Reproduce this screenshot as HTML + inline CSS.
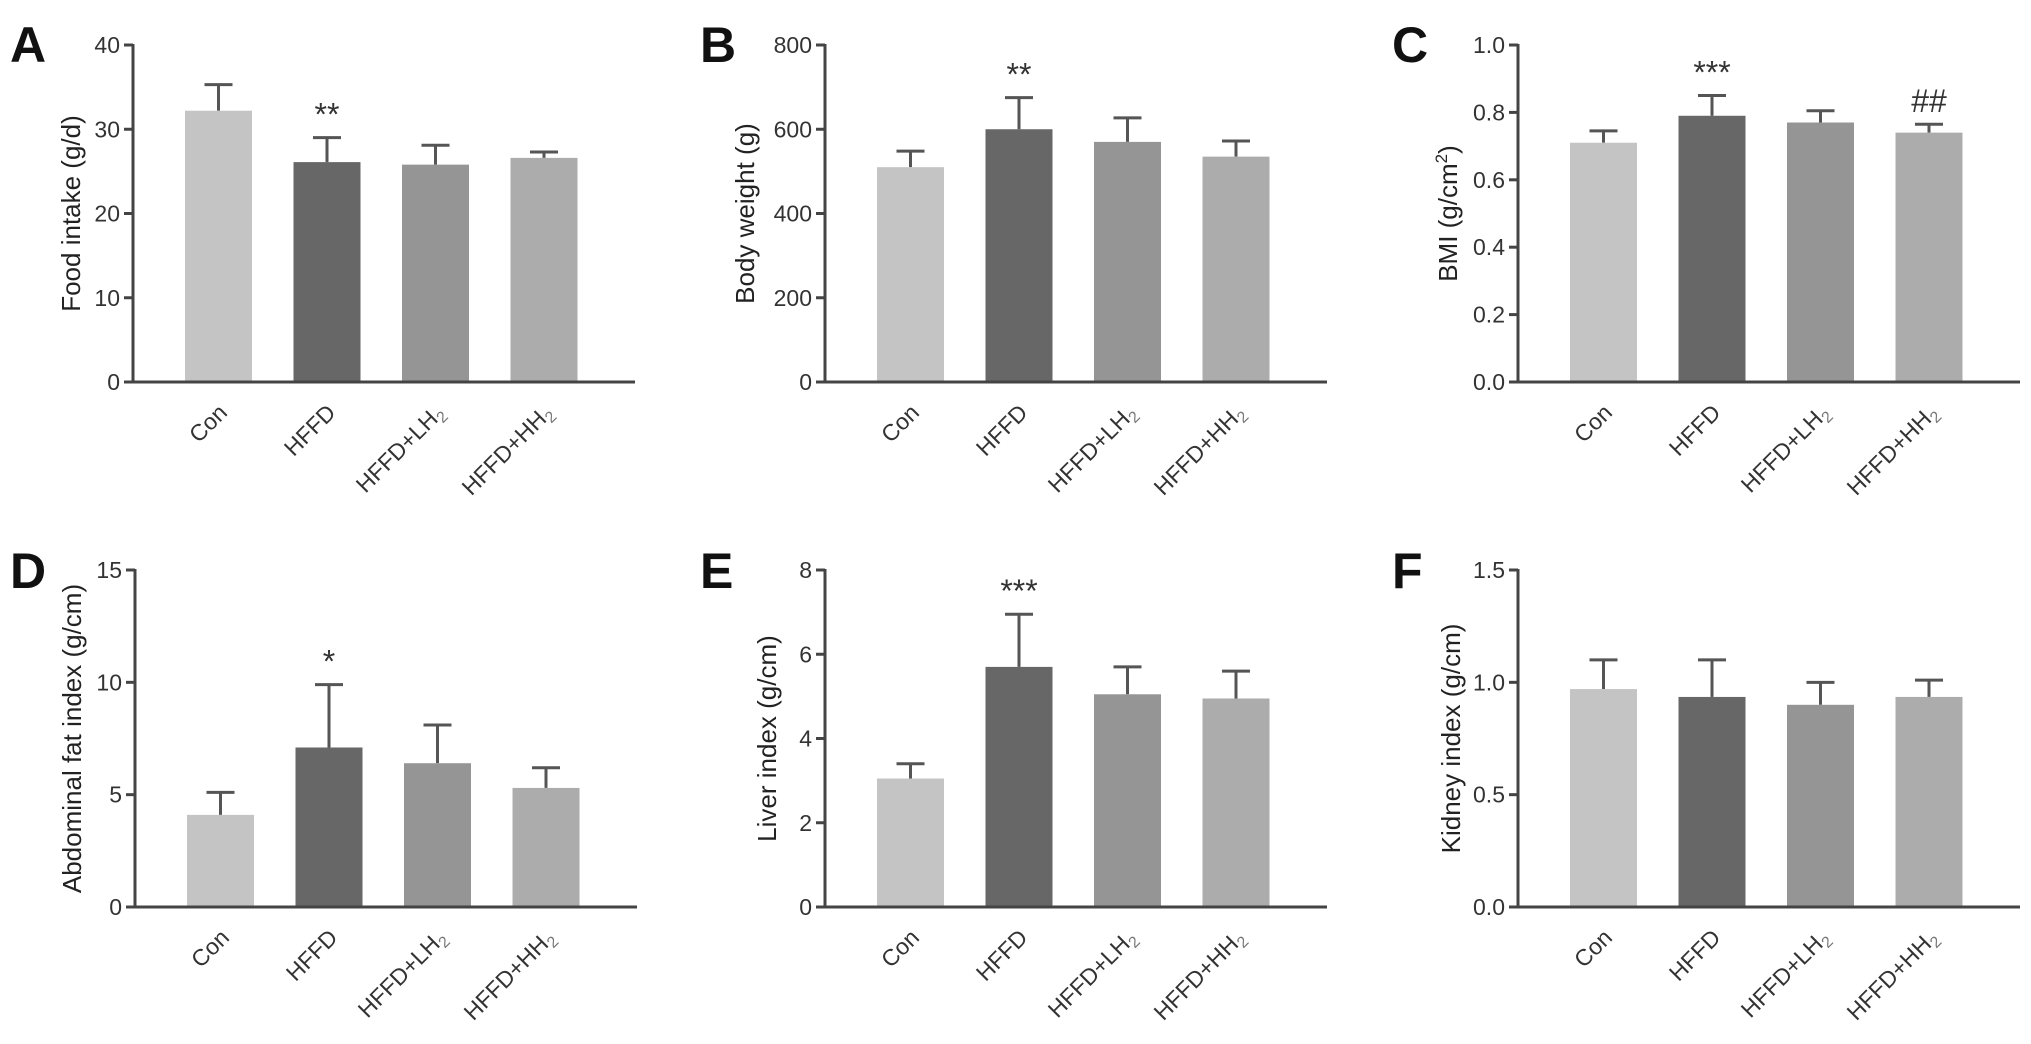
<!DOCTYPE html>
<html><head><meta charset="utf-8"><style>
html,body{margin:0;padding:0;background:#fff;}
svg{display:block;font-family:"Liberation Sans",Arial,sans-serif;}
</style></head><body>
<svg id="fig" width="2031" height="1044" viewBox="0 0 2031 1044" xmlns="http://www.w3.org/2000/svg"></svg>
<script>
const categories = ["Con","HFFD","HFFD+LH","HFFD+HH"];
const colors = ["#c4c4c4","#676767","#959595","#acacac"];
const meansA = [32.2,26.1,25.8,26.6];
const errA = [35.3,29.0,28.1,27.3];
const sigA = ["","**","",""];
const meansB = [510,600,570,535];
const errB = [548,675,627,572];
const sigB = ["","**","",""];
const meansC = [0.71,0.79,0.77,0.74];
const errC = [0.745,0.85,0.805,0.765];
const sigC = ["","***","","##"];
const meansD = [4.1,7.1,6.4,5.3];
const errD = [5.1,9.9,8.1,6.2];
const sigD = ["","*","",""];
const meansE = [3.05,5.7,5.05,4.95];
const errE = [3.4,6.95,5.7,5.6];
const sigE = ["","***","",""];
const meansF = [0.97,0.935,0.9,0.935];
const errF = [1.1,1.1,1.0,1.01];
const sigF = ["","","",""];
const ticksA = [0,10,20,30,40];
const ticksB = [0,200,400,600,800];
const ticksC = ["0.0","0.2","0.4","0.6","0.8","1.0"];
const ticksD = [0,5,10,15];
const ticksE = [0,2,4,6,8];
const ticksF = ["0.0","0.5","1.0","1.5"];

const NS="http://www.w3.org/2000/svg";
const svg=document.getElementById('fig');
function mk(tag,attrs,parent){const e=document.createElementNS(NS,tag);for(const k in attrs)e.setAttribute(k,attrs[k]);(parent||svg).appendChild(e);return e;}

const panels=[
 {id:'a',letter:'A',ax:133,top:45,zero:382,lx:10,ly:62,toff:62,title:'Food intake (g/d)',means:meansA,err:errA,sig:sigA,ticks:ticksA},
 {id:'b',letter:'B',ax:825,top:45,zero:382,lx:700,ly:62,toff:80,title:'Body weight (g)',means:meansB,err:errB,sig:sigB,ticks:ticksB},
 {id:'c',letter:'C',ax:1518,top:45,zero:382,lx:1392,ly:62,toff:70,title:'BMI (g/cm',sup:'2',means:meansC,err:errC,sig:sigC,ticks:ticksC},
 {id:'d',letter:'D',ax:135,top:570,zero:907,lx:10,ly:588,toff:63,title:'Abdominal fat index (g/cm)',means:meansD,err:errD,sig:sigD,ticks:ticksD},
 {id:'e',letter:'E',ax:825,top:570,zero:907,lx:700,ly:588,toff:58,title:'Liver index (g/cm)',means:meansE,err:errE,sig:sigE,ticks:ticksE},
 {id:'f',letter:'F',ax:1518,top:570,zero:907,lx:1392,ly:588,toff:67,title:'Kidney index (g/cm)',means:meansF,err:errF,sig:sigF,ticks:ticksF}
];

panels.forEach(p=>{
 const g=mk('g',{});
 
 
 const tv=p.ticks.map(Number);
 const maxV=tv[tv.length-1];
 const y=v=>p.zero-(v/maxV)*(p.zero-p.top);
 const L=mk('text',{x:p.lx,y:p.ly,'font-size':50,'font-weight':'bold',fill:'#111'},g);
 L.textContent=p.letter;
 
 
 categories.forEach((c,i)=>{
  const x0=p.ax+52+i*108.5, w=67;
  const ey=y(p.err[i]), by=y(p.means[i]), cx=x0+w/2;
  const eb=mk('line',{x1:cx,x2:cx,y1:ey,y2:by,stroke:'#555','stroke-width':3},g);
  
  
  const cap=mk('line',{x1:cx-14,x2:cx+14,y1:ey,y2:ey,stroke:'#555','stroke-width':3},g);
  
  
  const r=mk('rect',{x:x0,y:by,width:w,height:p.zero-by,fill:colors[i]},g);
  
  
  if(p.sig[i]){
   const s=mk('text',{x:cx,y:ey-12,'font-size':32,'text-anchor':'middle',fill:'#333'},g);
   s.textContent=p.sig[i];
   
   
  }
  const t=mk('text',{'font-size':23,'text-anchor':'end',fill:'#333',transform:`translate(${cx+10},${p.zero+32}) rotate(-45)`},g);
  
  
  if(c.endsWith('H')&&c.includes('+')){
   t.appendChild(document.createTextNode(c));
   const sb=mk('tspan',{'font-size':16,dy:5,fill:'#777'},t);sb.textContent='2';
  } else t.textContent=c;
 });
 const ya=mk('line',{x1:p.ax,x2:p.ax,y1:p.top-1,y2:p.zero+1.5,stroke:'#444','stroke-width':3},g);
 
 const xa=mk('line',{x1:p.ax-1.5,x2:p.ax+502,y1:p.zero,y2:p.zero,stroke:'#444','stroke-width':3},g);
 
 p.ticks.forEach(tk=>{
  const ty=y(Number(tk));
  const tl=mk('line',{x1:p.ax-9,x2:p.ax,y1:ty,y2:ty,stroke:'#444','stroke-width':3},g);
  
  const tt=mk('text',{x:p.ax-13,y:ty+8,'font-size':23,'text-anchor':'end',fill:'#333'},g);
  tt.textContent=tk;
  
 });
 const cy=(p.top+p.zero)/2;
 const yt=mk('text',{'font-size':26,'text-anchor':'middle',fill:'#222',transform:`translate(${p.ax-p.toff+9},${cy}) rotate(-90)`},g);
 yt.textContent=p.title;
 if(p.sup){const sp=mk('tspan',{'font-size':17,dy:-10},yt);sp.textContent=p.sup;const cl=mk('tspan',{dy:10},yt);cl.textContent=')';}
 
});
</script>
</body></html>
